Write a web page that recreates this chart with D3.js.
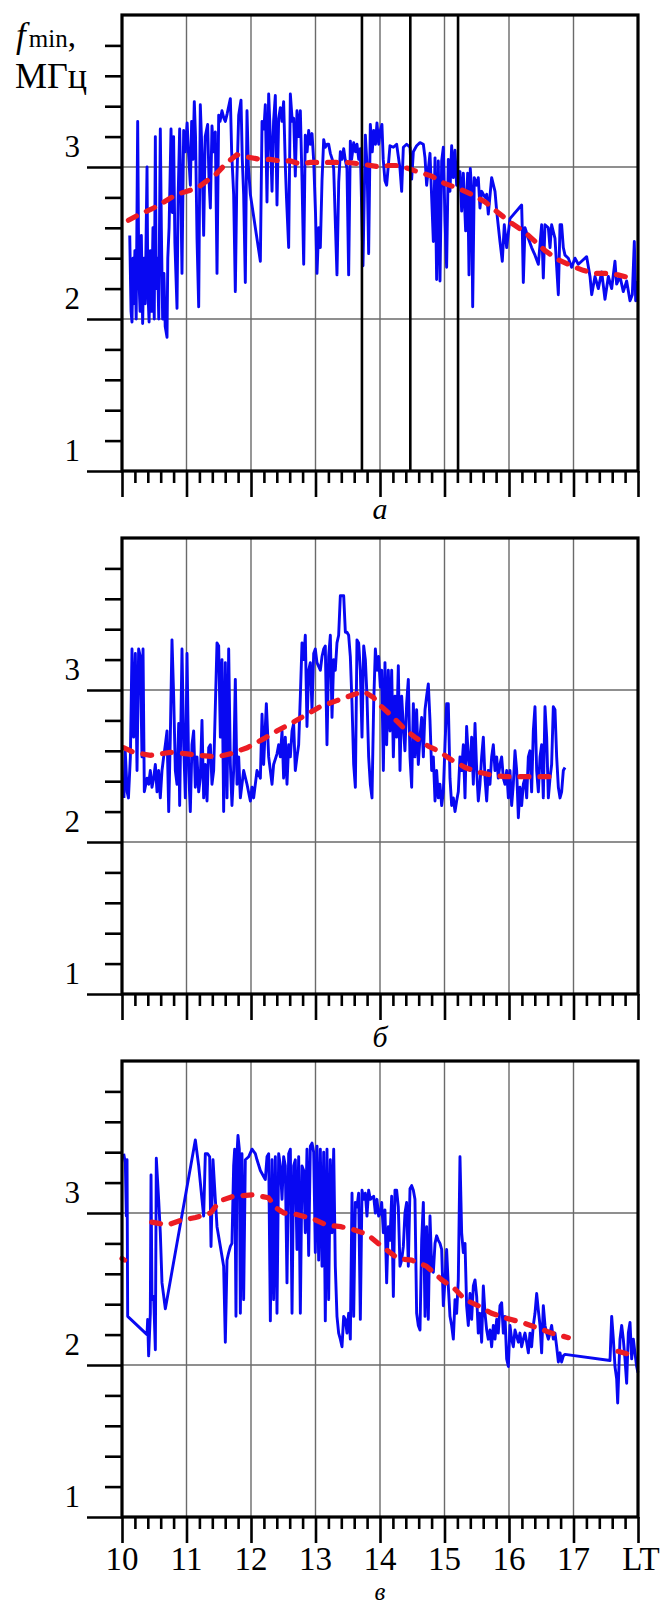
<!DOCTYPE html>
<html>
<head>
<meta charset="utf-8">
<script src="https://cdn.jsdelivr.net/npm/d3@7"></script>
<style>
  body { margin: 0; background: #fff; }
  svg { display: block; }
</style>
</head>
<body>
<div id="chart"></div>
<script>
// f_min (MHz) vs local time, three days: а, б, в
const blueA = [
  [10.12,2.55],[10.14,2.05],[10.155,1.98],[10.17,2.40],[10.18,2.10],[10.20,2.45],[10.22,2.00],[10.243,3.30],[10.26,2.30],[10.28,2.05],
  [10.30,2.55],[10.32,1.97],[10.34,2.40],[10.36,2.10],[10.388,3.00],[10.40,2.20],[10.42,1.98],[10.44,2.45],[10.46,2.05],[10.48,2.60],
  [10.50,2.00],[10.517,3.20],[10.53,2.20],[10.55,2.40],[10.57,2.00],[10.594,3.25],[10.61,2.60],[10.63,2.00],[10.65,2.30],[10.67,1.95],
  [10.698,1.88],[10.71,2.40],[10.73,2.60],[10.76,3.25],[10.78,2.70],[10.80,3.20],[10.82,2.50],[10.853,2.07],[10.87,2.80],[10.894,3.25],
  [10.91,2.90],[10.93,2.30],[10.956,3.24],[10.98,3.10],[11.01,3.29],[11.03,3.10],[11.06,2.88],[11.08,3.30],[11.10,3.05],[11.121,3.43],
  [11.14,3.20],[11.163,2.53],[11.189,2.08],[11.214,3.41],[11.24,3.10],[11.266,2.55],[11.29,3.20],[11.328,3.28],[11.35,2.90],[11.37,2.73],
  [11.395,3.27],[11.42,3.10],[11.447,3.23],[11.473,2.30],[11.499,3.34],[11.52,3.30],[11.55,3.37],[11.58,3.32],[11.602,3.30],[11.63,3.35],
  [11.68,3.45],[11.70,3.10],[11.731,2.82],[11.757,2.18],[11.78,2.90],[11.809,3.34],[11.845,3.44],[11.865,3.05],[11.886,2.82],[11.912,2.24],
  [11.938,3.37],[11.96,3.00],[11.99,2.82],[12.145,2.38],[12.171,3.30],[12.20,3.25],[12.222,3.41],[12.248,2.77],[12.274,3.48],[12.30,3.20],
  [12.326,2.84],[12.35,3.30],[12.377,3.47],[12.403,2.75],[12.429,3.32],[12.455,3.39],[12.48,3.30],[12.506,3.43],[12.532,3.01],[12.55,2.80],
  [12.584,2.47],[12.61,3.48],[12.64,3.30],[12.662,3.32],[12.687,2.94],[12.713,3.37],[12.74,3.20],[12.765,3.37],[12.791,2.91],[12.817,2.36],
  [12.842,3.21],[12.87,3.10],[12.894,3.24],[12.92,3.15],[12.946,3.22],[12.972,3.04],[13.00,2.70],[13.023,2.30],[13.05,2.60],[13.075,2.47],
  [13.101,2.91],[13.127,3.18],[13.152,3.13],[13.18,3.15],[13.204,3.15],[13.23,3.09],[13.26,3.05],[13.282,2.99],[13.31,2.60],[13.333,2.29],
  [13.36,2.90],[13.385,3.10],[13.41,3.05],[13.437,3.12],[13.46,3.05],[13.488,2.99],[13.514,2.29],[13.54,3.17],[13.56,3.05],[13.592,3.16],
  [13.62,3.10],[13.643,3.15],[13.67,3.05],[13.695,3.12],[13.736,2.35],[13.773,3.21],[13.80,3.00],[13.824,2.43],[13.85,3.28],[13.88,3.10],
  [13.902,3.24],[13.93,3.15],[13.953,3.29],[13.98,3.15],[14.005,3.24],
  [14.03,3.28],[14.05,3.05],[14.077,2.91],[14.103,2.88],[14.155,3.14],[14.207,3.13],[14.258,3.15],[14.31,2.99],[14.336,2.84],[14.362,3.13],
  [14.413,3.15],[14.465,3.13],[14.491,2.92],[14.517,3.10],[14.568,3.14],[14.62,3.16],[14.672,3.15],[14.698,3.06],[14.723,2.88],[14.775,3.09],
  [14.801,2.80],[14.827,2.51],[14.853,3.06],[14.878,2.26],[14.904,3.04],[14.93,2.25],[14.956,3.04],[14.982,3.13],[15.008,2.64],[15.033,2.34],
  [15.059,3.05],[15.085,2.84],[15.111,3.14],[15.137,2.93],[15.163,3.11],[15.188,2.88],[15.24,2.97],[15.266,2.71],[15.292,2.96],[15.328,2.58],
  [15.359,2.96],[15.38,2.29],[15.40,2.99],[15.421,2.84],[15.437,2.08],[15.462,2.93],[15.499,2.88],[15.524,2.93],[15.55,2.73],[15.576,2.84],
  [15.628,2.80],[15.654,2.82],[15.679,2.69],[15.731,2.93],[15.783,2.84],[15.809,2.71],[15.86,2.51],[15.896,2.38],[15.927,2.62],[15.964,2.47],
  [16.015,2.66],[16.196,2.75],[16.207,2.57],[16.222,2.24],[16.248,2.60],[16.30,2.53],[16.351,2.47],[16.403,2.42],[16.455,2.36],[16.506,2.62],
  [16.532,2.27],[16.558,2.62],[16.61,2.60],[16.636,2.47],[16.661,2.62],[16.713,2.53],[16.765,2.16],[16.791,2.62],[16.816,2.62],[16.842,2.47],
  [16.868,2.42],[16.92,2.40],[16.971,2.34],[17.023,2.40],[17.075,2.36],[17.126,2.38],[17.204,2.41],[17.256,2.28],[17.282,2.16],[17.333,2.28],
  [17.385,2.20],[17.437,2.31],[17.488,2.13],[17.54,2.28],[17.592,2.20],[17.643,2.38],[17.669,2.23],[17.721,2.28],[17.772,2.18],[17.824,2.25],
  [17.876,2.12],[17.912,2.16],[17.943,2.51],[17.964,2.12],[17.995,2.25]
];
const trendA = [
  [10.1,2.65],[10.28,2.69],[10.49,2.73],[10.65,2.77],[10.85,2.82],[11.16,2.86],[11.32,2.91],[11.45,2.95],[11.63,3.03],[11.78,3.08],
  [11.89,3.07],[12.14,3.05],[12.30,3.05],[12.45,3.04],[12.61,3.04],[12.76,3.02],[12.92,3.03],[13.07,3.03],[13.28,3.03],[13.49,3.03],
  [13.70,3.02],[14.0,3.0],[14.13,3.01],[14.28,3.01],[14.44,2.99],[14.65,2.96],[14.80,2.94],[15.01,2.89],[15.21,2.86],[15.42,2.82],
  [15.63,2.77],[15.83,2.70],[16.04,2.63],[16.25,2.57],[16.56,2.45],[16.76,2.39],[16.97,2.35],[17.15,2.32],[17.33,2.30],[17.51,2.30],
  [17.69,2.29],[17.88,2.27]
];
const markerTimesA = [13.72, 14.47, 15.21];

const blueB = [
  [10.03,2.29],[10.05,2.60],[10.08,2.33],[10.10,2.29],[10.13,2.56],[10.155,3.27],[10.18,2.69],[10.207,3.24],[10.233,2.47],[10.258,3.27],
  [10.284,3.22],[10.31,2.56],[10.326,3.27],[10.346,2.33],[10.388,2.42],[10.413,2.38],[10.439,2.47],[10.465,2.36],[10.491,2.42],[10.517,2.51],
  [10.543,2.33],[10.568,2.47],[10.594,2.29],[10.62,2.47],[10.646,2.56],[10.672,2.64],[10.698,2.73],[10.724,2.20],[10.749,2.69],[10.775,3.33],
  [10.801,2.96],[10.827,2.47],[10.853,2.38],[10.879,2.78],[10.894,2.24],[10.93,3.27],[10.956,2.64],[10.982,2.29],[11.008,3.24],[11.034,2.47],
  [11.059,2.20],[11.085,2.64],[11.111,2.73],[11.137,2.36],[11.163,2.56],[11.189,2.33],[11.214,2.42],[11.24,2.80],[11.266,2.29],[11.292,2.51],
  [11.318,2.27],[11.344,2.62],[11.37,2.64],[11.395,2.38],[11.421,2.47],[11.473,3.31],[11.499,3.29],[11.525,2.69],[11.55,3.20],[11.576,2.20],
  [11.602,3.18],[11.628,2.29],[11.654,3.27],[11.68,2.51],[11.705,2.24],[11.731,2.47],[11.757,3.07],[11.783,2.38],[11.809,2.56],[11.835,2.29],
  [11.886,2.47],[11.938,2.38],[11.99,2.27],[12.016,2.36],[12.041,2.29],[12.093,2.47],[12.145,2.42],[12.171,2.84],[12.196,2.51],[12.238,2.91],
  [12.274,2.56],[12.30,2.47],[12.326,2.38],[12.351,2.51],[12.403,2.58],[12.429,2.64],[12.455,2.56],[12.481,2.73],[12.506,2.42],[12.532,2.69],
  [12.558,2.38],[12.584,2.64],[12.61,2.56],[12.636,2.73],[12.661,2.78],[12.687,2.47],[12.713,2.56],[12.739,2.64],[12.765,2.96],[12.791,3.31],
  [12.817,3.20],[12.842,3.36],[12.868,2.76],[12.894,3.13],[12.92,3.18],[12.946,2.87],[12.972,3.24],[12.997,3.27],[13.023,3.18],[13.075,3.13],
  [13.101,3.22],[13.127,3.27],[13.152,3.29],[13.178,2.64],[13.204,3.22],[13.23,3.36],[13.256,2.82],[13.282,3.20],[13.307,3.13],[13.333,3.31],
  [13.359,3.36],[13.385,3.62],[13.411,3.62],[13.437,3.62],[13.463,3.38],[13.488,3.38],[13.514,3.36],[13.54,3.22],[13.566,2.91],[13.592,2.51],
  [13.618,2.36],[13.643,3.33],[13.669,3.31],[13.695,3.13],[13.721,2.69],[13.747,3.29],[13.773,3.20],[13.798,2.96],[13.824,2.56],[13.85,2.38],
  [13.876,2.29],[13.902,2.91],[13.928,3.27],[13.953,3.13],[13.979,3.22],[14.005,3.02],
  [14.026,3.13],[14.052,2.47],[14.077,3.18],[14.103,2.64],[14.129,3.13],[14.155,2.73],[14.181,3.13],[14.207,2.56],[14.232,2.96],[14.258,2.69],
  [14.284,3.16],[14.31,2.47],[14.336,2.96],[14.362,2.76],[14.387,2.60],[14.413,2.91],[14.439,3.07],[14.465,2.56],[14.491,2.36],[14.517,2.91],
  [14.542,2.56],[14.568,2.87],[14.594,2.51],[14.62,2.69],[14.646,2.82],[14.672,2.56],[14.698,2.87],[14.723,2.96],[14.749,3.04],[14.775,2.80],
  [14.801,2.47],[14.827,2.56],[14.853,2.27],[14.878,2.47],[14.904,2.29],[14.93,2.38],[14.956,2.24],[14.982,2.33],[15.008,2.64],[15.033,2.91],
  [15.059,2.91],[15.085,2.42],[15.111,2.24],[15.137,2.29],[15.163,2.20],[15.188,2.27],[15.214,2.33],[15.24,2.56],[15.266,2.47],[15.292,2.64],
  [15.318,2.29],[15.343,2.76],[15.369,2.56],[15.395,2.47],[15.421,2.69],[15.447,2.38],[15.473,2.78],[15.499,2.47],[15.524,2.27],[15.55,2.38],
  [15.576,2.56],[15.602,2.69],[15.628,2.42],[15.654,2.27],[15.679,2.47],[15.705,2.38],[15.731,2.56],[15.757,2.64],[15.783,2.47],[15.809,2.56],
  [15.834,2.42],[15.86,2.51],[15.886,2.56],[15.912,2.42],[15.938,2.38],[15.964,2.47],[15.99,2.29],[16.015,2.47],[16.041,2.24],[16.067,2.38],
  [16.093,2.60],[16.119,2.47],[16.145,2.16],[16.17,2.36],[16.196,2.24],[16.222,2.38],[16.248,2.42],[16.274,2.29],[16.30,2.56],[16.325,2.60],
  [16.351,2.33],[16.377,2.73],[16.403,2.89],[16.429,2.47],[16.455,2.33],[16.481,2.56],[16.506,2.64],[16.532,2.29],[16.558,2.89],[16.584,2.69],
  [16.61,2.29],[16.636,2.42],[16.661,2.51],[16.687,2.89],[16.713,2.87],[16.739,2.56],[16.765,2.36],[16.791,2.29],[16.816,2.33],[16.842,2.47],
  [16.868,2.49]
];
const trendB = [
  [10.03,2.62],[10.18,2.59],[10.44,2.57],[10.75,2.59],[11.01,2.58],[11.21,2.57],[11.47,2.56],[11.68,2.58],[11.94,2.62],[12.20,2.68],
  [12.40,2.73],[12.66,2.79],[12.87,2.84],[13.07,2.89],[13.33,2.93],[13.59,2.97],[13.75,2.99],[13.90,2.95],[14.0,2.90],[14.18,2.83],
  [14.39,2.74],[14.54,2.69],[14.75,2.63],[14.90,2.60],[15.11,2.54],[15.32,2.49],[15.52,2.46],[15.73,2.44],[15.94,2.43],[16.14,2.43],
  [16.40,2.43],[16.71,2.43]
];

const blueC = [
  [10.026,3.39],[10.052,3.33],[10.067,2.98],[10.078,3.35],[10.088,2.32],[10.388,2.20],[10.398,2.30],[10.413,2.06],[10.439,2.34],[10.45,3.25],
  [10.465,2.43],[10.491,2.45],[10.517,2.10],[10.532,3.36],[10.568,3.09],[10.594,2.87],[10.62,2.54],[10.672,2.37],[11.137,3.48],[11.189,3.31],
  [11.24,3.09],[11.266,2.98],[11.292,3.39],[11.328,3.39],[11.359,3.37],[11.38,2.78],[11.411,3.35],[11.447,3.09],[11.473,2.91],[11.525,2.78],
  [11.576,2.65],[11.602,2.15],[11.628,2.69],[11.654,2.74],[11.68,2.78],[11.705,2.80],[11.731,3.31],[11.747,3.42],[11.767,2.32],[11.783,3.39],
  [11.798,3.51],[11.819,3.42],[11.835,2.34],[11.86,3.39],[11.886,2.43],[11.912,3.35],[11.964,3.37],[12.016,3.42],[12.067,3.39],[12.093,3.35],
  [12.145,3.28],[12.196,3.24],[12.222,3.22],[12.248,3.37],[12.274,3.39],[12.30,2.29],[12.326,3.35],[12.351,2.43],[12.377,3.37],[12.403,2.34],
  [12.429,3.39],[12.455,3.31],[12.481,3.09],[12.506,3.37],[12.532,3.31],[12.558,2.54],[12.584,3.39],[12.61,3.42],[12.636,2.34],[12.661,3.31],
  [12.687,3.35],[12.713,2.76],[12.739,3.37],[12.765,2.34],[12.791,3.31],[12.817,3.28],[12.842,2.87],[12.868,3.42],[12.894,2.72],[12.92,3.44],
  [12.946,3.46],[12.972,3.40],[12.997,2.74],[13.023,3.44],[13.049,2.69],[13.075,3.42],[13.101,2.65],[13.127,3.40],[13.152,2.29],[13.178,3.42],
  [13.204,2.43],[13.23,3.35],[13.256,2.87],[13.282,3.42],[13.307,2.65],[13.333,2.32],[13.359,2.21],[13.385,2.17],[13.411,2.12],[13.437,2.32],
  [13.463,2.30],[13.488,2.21],[13.514,2.34],[13.53,2.25],[13.54,2.17],[13.566,3.13],[13.592,2.32],[13.618,3.07],[13.643,3.04],[13.669,3.13],
  [13.695,2.30],[13.721,3.15],[13.747,3.09],[13.773,3.13],[13.798,2.98],[13.824,3.15],[13.85,3.09],[13.902,3.11],[13.928,3.0],[13.953,3.09],
  [13.979,2.98],[14.005,3.0],
  [14.026,3.07],[14.052,2.87],[14.077,3.02],[14.103,2.54],[14.129,2.91],[14.155,2.82],[14.181,3.11],[14.207,2.45],[14.232,3.15],[14.258,3.15],
  [14.284,3.04],[14.31,2.65],[14.336,2.69],[14.362,2.78],[14.387,3.0],[14.413,3.07],[14.439,2.65],[14.465,3.16],[14.491,3.18],[14.517,3.15],
  [14.542,3.09],[14.568,2.34],[14.594,2.26],[14.62,2.23],[14.646,2.82],[14.672,3.07],[14.698,2.32],[14.723,2.91],[14.749,2.30],[14.775,2.98],
  [14.801,2.65],[14.827,2.61],[14.853,2.80],[14.878,2.85],[14.904,2.82],[14.93,2.80],[14.956,2.76],[14.982,2.39],[15.008,2.56],[15.033,2.76],
  [15.059,2.52],[15.085,2.32],[15.111,2.26],[15.137,2.17],[15.163,2.43],[15.188,2.34],[15.214,2.56],[15.24,3.37],[15.266,2.87],[15.292,2.74],
  [15.318,2.80],[15.343,2.39],[15.369,2.26],[15.395,2.47],[15.421,2.30],[15.447,2.52],[15.473,2.56],[15.499,2.45],[15.524,2.21],[15.55,2.34],
  [15.576,2.15],[15.602,2.52],[15.628,2.34],[15.654,2.23],[15.679,2.17],[15.705,2.23],[15.731,2.12],[15.757,2.26],[15.783,2.17],[15.809,2.30],
  [15.834,2.21],[15.86,2.39],[15.886,2.41],[15.912,2.21],[15.938,2.32],[15.964,2.04],[15.99,1.99],[16.015,2.26],[16.041,2.17],[16.067,2.12],
  [16.093,2.23],[16.119,2.19],[16.145,2.15],[16.17,2.21],[16.196,2.12],[16.222,2.17],[16.248,2.21],[16.274,2.15],[16.30,2.08],[16.325,2.21],
  [16.351,2.12],[16.377,2.26],[16.403,2.34],[16.429,2.47],[16.455,2.36],[16.481,2.26],[16.506,2.08],[16.532,2.39],[16.558,2.26],[16.584,2.21],
  [16.61,2.17],[16.636,2.21],[16.661,2.26],[16.687,2.17],[16.713,2.21],[16.739,2.12],[16.765,2.02],[16.791,2.08],[16.816,2.02],[16.842,2.06],
  [16.868,2.07],[17.566,2.03],[17.592,2.32],[17.618,2.17],[17.643,1.99],[17.669,1.91],[17.685,1.75],[17.705,1.99],[17.721,2.17],[17.747,2.26],
  [17.772,2.17],[17.798,2.04],[17.824,1.88],[17.85,2.21],[17.876,2.28],[17.902,2.04],[17.928,2.17],[17.953,2.08],[17.979,1.99],[18.0,1.95]
];
// null value = break in the smoothed curve
const trendC = [
  [10.0,2.70],[10.04,2.69],[10.2,null],
  [10.46,2.94],[10.59,2.93],[10.70,2.92],[10.90,2.95],[11.14,2.97],[11.37,3.0],[11.52,3.08],[11.73,3.11],[12.04,3.12],[12.27,3.10],
  [12.40,3.03],[12.51,3.0],[12.71,2.99],[12.97,2.96],[13.18,2.92],[13.39,2.91],[13.59,2.89],[13.80,2.86],[14.0,2.79],[14.28,2.70],
  [14.49,2.69],[14.72,2.65],[14.96,2.56],[15.16,2.50],[15.32,2.43],[15.52,2.39],[15.73,2.34],[15.94,2.31],[16.20,2.28],[16.40,2.25],
  [16.66,2.21],[16.92,2.18],[17.3,null],
  [17.69,2.09],[17.95,2.06]
];

const hourTicks = [10, 11, 12, 13, 14, 15, 16, 17, 18];
const hourLabels = ["10", "11", "12", "13", "14", "15", "16", "17", "LT"];
const freqTicks = [1, 2, 3];
const freqLabels = ["1", "2", "3"];
const panelLetters = ["а", "б", "в"];

const serif = "'Liberation Serif', 'Times New Roman', serif";

const svg = d3.select("#chart").append("svg")
    .attr("width", 665)
    .attr("height", 1607);

const x = d3.scaleLinear().domain([10, 18]).range([122, 638]);

const panels = [
  {blue: blueA, trend: trendA, marks: markerTimesA, top: 15, bottom: 471, letterY: 519},
  {blue: blueB, trend: trendB, marks: [], top: 538, bottom: 994, letterY: 1047},
  {blue: blueC, trend: trendC, marks: [], top: 1061, bottom: 1517, letterY: 1600}
];

const minorHours = d3.range(10, 18.001, 0.2).filter(h => Math.abs(h - Math.round(h)) > 0.01);
const minorFreqs = d3.range(1, 3.9, 0.2).filter(v => Math.abs(v - Math.round(v)) > 0.01);

panels.forEach((p, i) => {
  const y = d3.scaleLinear().domain([1, 4]).range([p.bottom, p.top]);
  const g = svg.append("g");

  // grid
  g.selectAll(".vgrid")
    .data(hourTicks.slice(1, -1))
    .enter().append("line")
      .attr("x1", d => x(d)).attr("x2", d => x(d))
      .attr("y1", p.top).attr("y2", p.bottom)
      .attr("stroke", "#6a6a6a").attr("stroke-width", 1.4);
  g.selectAll(".hgrid")
    .data([2, 3])
    .enter().append("line")
      .attr("x1", x(10)).attr("x2", x(18))
      .attr("y1", d => y(d)).attr("y2", d => y(d))
      .attr("stroke", "#6a6a6a").attr("stroke-width", 1.4);

  // measured values
  g.append("path")
    .datum(p.blue)
    .attr("fill", "none")
    .attr("stroke", "#0808f2")
    .attr("stroke-width", 2.9)
    .attr("stroke-linejoin", "round")
    .attr("d", d3.line().x(d => x(d[0])).y(d => y(d[1])));

  // smoothed curve
  g.append("path")
    .datum(p.trend)
    .attr("fill", "none")
    .attr("stroke", "#ec1c24")
    .attr("stroke-width", 5.2)
    .attr("stroke-linecap", "round")
    .attr("stroke-dasharray", "9,11")
    .attr("d", d3.line().defined(d => d[1] != null).x(d => x(d[0])).y(d => y(d[1])));

  g.selectAll(".mark")
    .data(p.marks)
    .enter().append("line")
      .attr("x1", d => x(d)).attr("x2", d => x(d))
      .attr("y1", p.top).attr("y2", p.bottom)
      .attr("stroke", "#000").attr("stroke-width", 2.6);

  // frame
  g.append("rect")
    .attr("x", x(10)).attr("y", p.top)
    .attr("width", x(18) - x(10)).attr("height", p.bottom - p.top)
    .attr("fill", "none").attr("stroke", "#000").attr("stroke-width", 3.2);

  // ticks
  const tickStyle = sel => {
    sel.select(".domain").remove();
    sel.selectAll("line").attr("stroke", "#000").attr("stroke-width", 2.6);
  };
  g.append("g").attr("transform", `translate(${x(10)},0)`)
    .call(d3.axisLeft(y).tickValues(freqTicks).tickSize(35).tickFormat(""))
    .call(tickStyle);
  g.append("g").attr("transform", `translate(${x(10)},0)`)
    .call(d3.axisLeft(y).tickValues(minorFreqs).tickSize(17).tickFormat(""))
    .call(tickStyle);
  g.append("g").attr("transform", `translate(0,${p.bottom})`)
    .call(d3.axisBottom(x).tickValues(hourTicks).tickSize(26).tickFormat(""))
    .call(tickStyle);
  g.append("g").attr("transform", `translate(0,${p.bottom})`)
    .call(d3.axisBottom(x).tickValues(minorHours).tickSize(12).tickFormat(""))
    .call(tickStyle);

  g.selectAll(".ylab")
    .data(freqTicks)
    .enter().append("text")
      .attr("x", 80)
      .attr("y", d => y(d) - 10)
      .attr("text-anchor", "end")
      .style("font-family", serif)
      .style("font-size", "31px")
      .text((d, k) => freqLabels[k]);

  g.append("text")
    .attr("x", x(14))
    .attr("y", p.letterY)
    .attr("text-anchor", "middle")
    .style("font-family", serif)
    .style("font-style", "italic")
    .style("font-size", i === 2 ? "25px" : "30px")
    .text(panelLetters[i]);

  if (i === 2) {
    g.selectAll(".xlab")
      .data(hourTicks)
      .enter().append("text")
        .attr("x", (d, k) => x(d) + (k === 8 ? 3 : 0))
        .attr("y", p.bottom + 53)
        .attr("text-anchor", "middle")
        .style("font-family", serif)
        .style("font-size", "33px")
        .text((d, k) => hourLabels[k]);
  }
});

// axis title
const title = svg.append("text")
  .attr("x", 16).attr("y", 47)
  .style("font-family", serif);
title.append("tspan").style("font-style", "italic").style("font-size", "35px").text("f");
title.append("tspan").style("font-size", "25px").attr("dx", 3).text("min");
title.append("tspan").style("font-size", "33px").text(",");
svg.append("text")
  .attr("x", 15).attr("y", 88)
  .style("font-family", serif)
  .style("font-size", "36px")
  .text("МГц");
</script>
</body>
</html>
